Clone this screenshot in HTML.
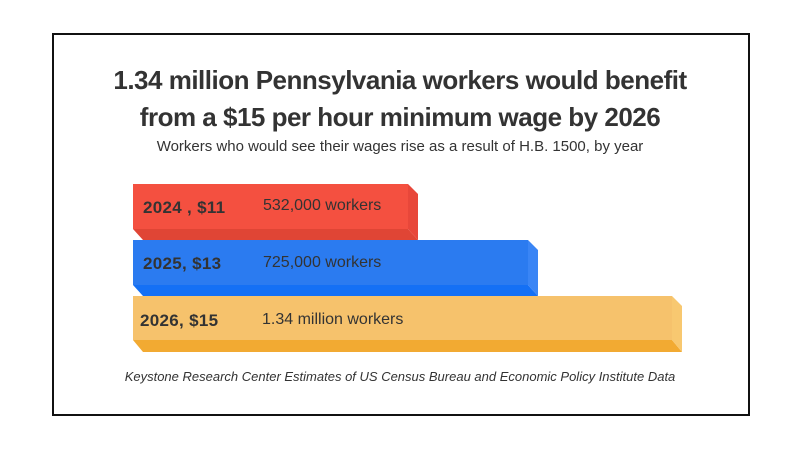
<!DOCTYPE html>
<html><head><style>
body{margin:0;width:800px;height:450px;background:#fff;font-family:"Liberation Sans",sans-serif;position:relative;overflow:hidden}
.box{position:absolute;left:52px;top:33px;width:694px;height:379px;border:2px solid #111}
.t{position:absolute;left:0;width:800px;text-align:center;color:#333}
.lab{position:absolute;font-weight:900;font-size:17px;color:#333;letter-spacing:0.3px}
.val{position:absolute;font-size:16px;color:#333}
</style></head><body>
<div class="box"></div>
<div class="t" style="top:62px;font-size:26px;font-weight:bold;line-height:37px;letter-spacing:-0.5px">1.34 million Pennsylvania workers would benefit<br>from a $15 per hour minimum wage by 2026</div>
<div class="t" style="top:138px;font-size:15px">Workers who would see their wages rise as a result of H.B. 1500, by year</div>
<svg style="position:absolute;left:0;top:0" width="800" height="450">
<polygon points="133,229 408,229 418,240 143,240" fill="#e04535"/>
<polygon points="408,184 418,194 418,240 408,229" fill="#e8473a"/>
<rect x="133" y="184" width="275" height="45" fill="#f45040"/>
<polygon points="133,285 528,285 538,296 143,296" fill="#1470f5"/>
<polygon points="528,240 538,250 538,296 528,285" fill="#3a85f5"/>
<rect x="133" y="240" width="395" height="45" fill="#2b7bf0"/>
<polygon points="133,340 672,340 682,352 143,352" fill="#f2aa32"/>
<polygon points="672,296 682,306 682,352 672,340" fill="#f8c870"/>
<rect x="133" y="296" width="539" height="44" fill="#f6c26c"/>
</svg>
<div class="lab" style="left:143px;top:198px">2024 , $11</div>
<div class="val" style="left:263px;top:197px">532,000 workers</div>
<div class="lab" style="left:143px;top:254px">2025, $13</div>
<div class="val" style="left:263px;top:254px">725,000 workers</div>
<div class="lab" style="left:140px;top:311px">2026, $15</div>
<div class="val" style="left:262px;top:311px">1.34 million workers</div>
<div class="t" style="top:369px;font-size:13px;font-style:italic">Keystone Research Center Estimates of US Census Bureau and Economic Policy Institute Data</div>
</body></html>
